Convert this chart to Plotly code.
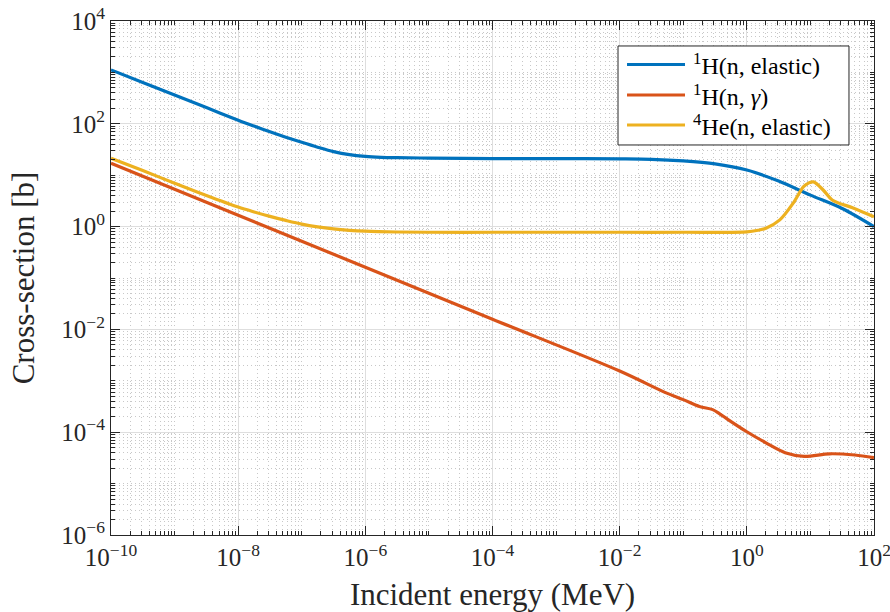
import plotly.graph_objects as go

# ---- data (energy in MeV, cross-section in barns) ----
h_el_energy = [1e-10, 3.16e-10, 1e-9, 3.16e-9, 1e-8, 1.78e-8, 3.16e-8, 5.62e-8, 1e-7, 1.78e-7,
               3.16e-7, 5.62e-7, 1e-6, 1.78e-6, 3.16e-6, 1e-5, 1e-4, 1e-3, 1e-2, 3.16e-2,
               1e-1, 0.316, 1.0, 3.16, 10.0, 31.6, 100.0]
h_el_xs = [1120, 638, 363, 207, 117.5, 90.2, 70.0, 55.0, 43.7, 35.1,
           28.8, 25.1, 23.2, 22.3, 21.9, 21.5, 21.1, 21.0, 20.8, 20.4,
           19.0, 16.6, 12.6, 7.7, 4.1, 2.25, 1.0]

h_g_energy = [1e-10, 1e-8, 1e-6, 1e-4, 1e-2, 0.055, 0.1, 0.18, 0.29, 0.37, 0.5,
              1.0, 2.0, 4.0, 8.0, 20.0, 50.0, 100.0]
h_g_xs = [17.0, 1.66, 0.162, 0.0158, 1.55e-3, 5.75e-4, 4.3e-4, 3.16e-4, 2.75e-4, 2.3e-4, 1.78e-4,
          1.02e-4, 6.2e-5, 4.0e-5, 3.4e-5, 3.8e-5, 3.6e-5, 3.2e-5]

he_el_energy = [1e-10, 3.16e-10, 1e-9, 3.16e-9, 1e-8, 1.78e-8, 3.16e-8, 5.62e-8, 1e-7, 1.78e-7,
                3.16e-7, 5.62e-7, 1e-6, 3.16e-6, 1e-5, 1e-4, 1e-3, 1e-2, 1e-1, 1.0,
                1.5, 2.0, 3.3, 5.4, 7.8, 9.5, 11.2, 16.0, 22.0, 47.0, 100.0]
he_el_xs = [21.4, 12.3, 7.0, 4.03, 2.40, 1.93, 1.58, 1.32, 1.12, 0.989,
            0.902, 0.847, 0.813, 0.785, 0.776, 0.776, 0.776, 0.776, 0.776, 0.79,
            0.85, 0.93, 1.35, 2.9, 6.0, 7.1, 7.4, 5.1, 3.3, 2.3, 1.55]

series_names = ["<sup>1</sup>H(n, elastic)", "<sup>1</sup>H(n, <i>γ</i>)", "<sup>4</sup>He(n, elastic)"]
series_colors = ["#0072BD", "#D95319", "#EDB120"]

x_major = [-10, -8, -6, -4, -2, 0, 2]
y_major = [-6, -4, -2, 0, 2, 4]


def pow_label(p):
    return "10<sup>" + ("−" if p < 0 else "") + str(abs(p)) + "</sup>"


def minor_vals(lo, hi, majors):
    vals = []
    for e in range(lo, hi):
        for d in range(1, 10):
            if d == 1 and e in majors:
                continue
            vals.append(d * 10.0 ** e)
    return vals


FONT = "Liberation Serif"
TXT = "#262626"

fig = go.Figure()
for xs, ys, nm, col in [(h_el_energy, h_el_xs, series_names[0], series_colors[0]),
                        (h_g_energy, h_g_xs, series_names[1], series_colors[1]),
                        (he_el_energy, he_el_xs, series_names[2], series_colors[2])]:
    fig.add_trace(go.Scatter(x=xs, y=ys, name=nm, mode="lines", showlegend=False,
                             line=dict(color=col, width=3.2, shape="spline", smoothing=0.9)))

common = dict(
    type="log", automargin=False,
    showline=True, linecolor=TXT, linewidth=1.2, mirror="ticks",
    ticks="inside", ticklen=9, tickcolor=TXT, tickwidth=1,
    showgrid=True, gridcolor="#dedede", gridwidth=1,
    zeroline=False, ticklabeloverflow="allow",
    tickfont=dict(family=FONT, size=25, color=TXT),
)
minor_style = dict(tickmode="array", ticks="inside", ticklen=4, tickcolor=TXT,
                   showgrid=True, gridcolor="#c8c8c8", griddash="1px,3px", gridwidth=1)

fig.update_xaxes(
    range=[-10, 2],
    tickmode="array",
    tickvals=[10.0 ** p for p in x_major],
    ticktext=[pow_label(p) for p in x_major],
    minor=dict(tickvals=minor_vals(-10, 2, x_major), **minor_style),
    title=dict(text="Incident energy (MeV)", font=dict(family=FONT, size=31, color=TXT), standoff=13),
    **common,
)
fig.update_yaxes(
    range=[-6, 4],
    tickmode="array",
    tickvals=[10.0 ** p for p in y_major],
    ticktext=[pow_label(p) for p in y_major],
    minor=dict(tickvals=minor_vals(-6, 4, y_major), **minor_style),
    title=dict(text="Cross-section [b]", font=dict(family=FONT, size=31, color=TXT), standoff=17),
    **common,
)

# ---- legend box drawn in paper coordinates ----
L = dict(x0=0.6645, x1=0.9672, y0=0.7588, y1=0.9514)
rows_y = [0.9154, 0.8560, 0.7977]
sample_x = (0.6763, 0.7523)
text_x = 0.7602

fig.add_shape(type="rect", xref="paper", yref="paper", layer="above",
              line=dict(color=TXT, width=1), fillcolor="white", **L)
for ry, nm, col in zip(rows_y, series_names, series_colors):
    fig.add_shape(type="line", xref="paper", yref="paper", layer="above",
                  x0=sample_x[0], x1=sample_x[1], y0=ry, y1=ry,
                  line=dict(color=col, width=3.2))
    fig.add_annotation(xref="paper", yref="paper", x=text_x, y=ry, xanchor="left", yanchor="middle",
                       text=nm, showarrow=False, font=dict(family=FONT, size=24, color="black"))

fig.update_layout(
    width=890, height=612,
    margin=dict(l=111, r=16, t=21, b=77),
    paper_bgcolor="white", plot_bgcolor="white",
    showlegend=False,
)

fig.write_html("out.html")
